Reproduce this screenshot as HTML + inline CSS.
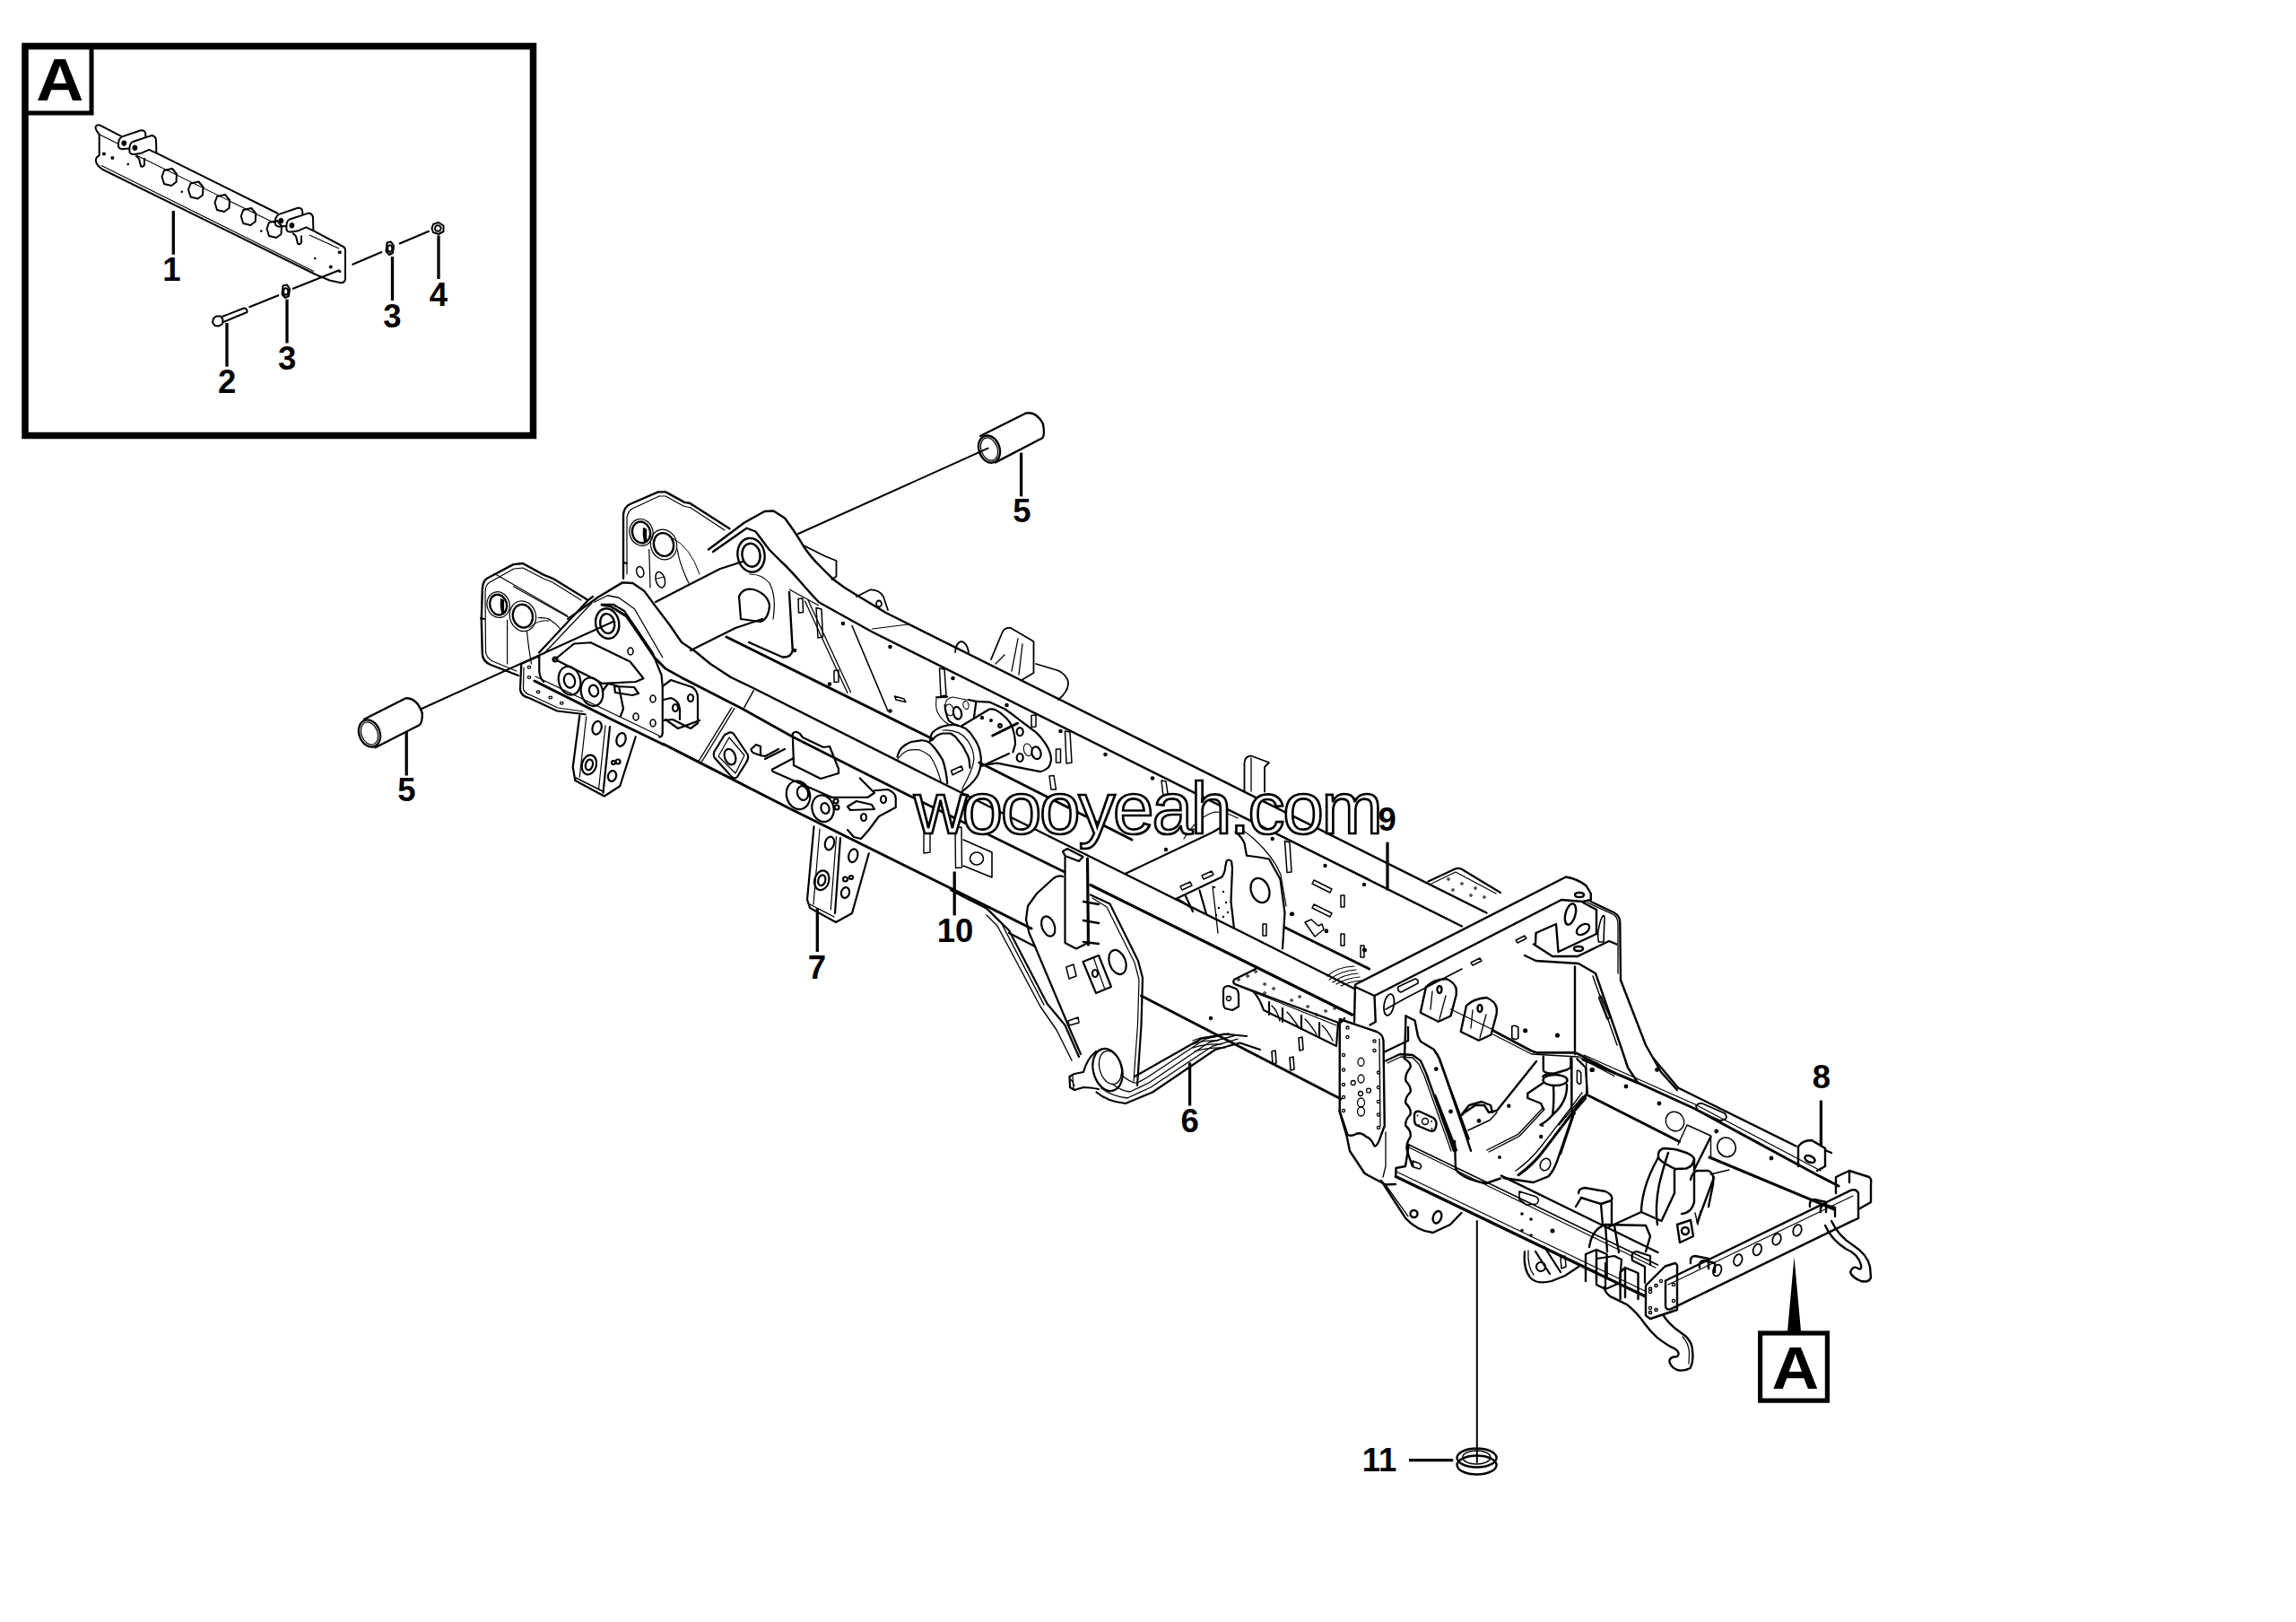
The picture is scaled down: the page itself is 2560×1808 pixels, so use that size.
<!DOCTYPE html>
<html><head><meta charset="utf-8"><style>
html,body{margin:0;padding:0;background:#fff;}
svg{display:block;}
.l{font-family:"Liberation Sans",sans-serif;font-weight:bold;font-size:36.5px;text-anchor:middle;fill:#000;}
.A{font-family:"Liberation Sans",sans-serif;font-weight:bold;font-size:67.5px;text-anchor:middle;fill:#000;}
.w{font-family:"Liberation Sans",sans-serif;font-size:82px;fill:#fff;stroke:#000;stroke-width:2.7px;}
</style></head><body>
<svg width="2560" height="1808" viewBox="0 0 2560 1808" xmlns="http://www.w3.org/2000/svg">
<rect width="2560" height="1808" fill="#fff"/>

<!-- ============ DETAIL BOX A ============ -->
<g id="boxA">
<rect x="28" y="51.5" width="566.5" height="434" fill="none" stroke="#000" stroke-width="7.5"/>
<path d="M28 51.5 H102 V126 H28" fill="none" stroke="#000" stroke-width="5"/>
<text class="A" transform="translate(66.8 112.4) scale(1.09 1)" x="0" y="0">A</text>
</g>

<!-- beam part 1 -->
<g id="beam" fill="none" stroke="#000" stroke-width="2" stroke-linejoin="round">
<path d="M110.7 149.8 Q105 143 107 140.5 Q109 138.5 112 139.8 L136.1 152.4"/>
<path stroke-width="1.1" d="M111 150 L131.6 160.3"/>
<g id="lugs">
<path d="M136.1 152.4 L157 145.2 Q162.3 145 162.3 150 L162.3 153"/>
<path d="M136.1 152.4 Q131 155 132.2 164.2 Q134 166.5 137.5 166.1 L144 165.5"/>
<ellipse cx="138.3" cy="159.6" rx="2.5" ry="2.8" fill="#000" stroke-width="1"/>
<path d="M147.3 158.3 L168.8 151.1 Q174 151.5 174 157 L174.4 170.7"/>
<path d="M147.3 158.3 Q143.5 161 144.6 170 Q146 172.5 149.9 172 L157.7 170.7 L166.2 166.8 L174.4 170.7"/>
<ellipse cx="150.4" cy="164.8" rx="2.5" ry="2.8" fill="#000" stroke-width="1"/>
<path d="M151.2 173.3 Q154 175 155.1 177.3 L157 185.1 Q158.5 187 161 183.8 L161 176"/>
</g>
<use href="#lugs" transform="translate(175 86.5)"/>
<path d="M174.4 170.7 L310 238"/>
<path stroke-width="1.1" d="M152.5 173.3 L307 249"/>
<path d="M349.4 257.2 L381 274 Q385 275.5 385 279 L385 311.25 Q384 316 379 315 L367.5 312.5 L352.5 306.25"/>
<path stroke-width="1.1" d="M345 262 L378 277"/>
<path d="M110.7 149.8 L110.7 173.3 Q107 175 106.8 178.6 Q107 184 114.6 189 L352.5 306.25"/>
<path stroke-width="1.1" d="M113 184.5 L350 302.5"/>
<g stroke-width="2">
<path d="M183 190 L192 188 L197 194 L196.5 203 L191 207 L183 205 L180.5 197 Z"/>
<path d="M212.5 204.5 L221.5 202.5 L226.5 208.5 L226 217.5 L220.5 221.5 L212.5 219.5 L210 211.5 Z"/>
<path d="M242 219 L251 217 L256 223 L255.5 232 L250 236 L242 234 L239.5 226 Z"/>
<path d="M271.25 234 L280.25 232 L285.25 238 L284.75 247 L279.25 251 L271.25 249 L268.75 241 Z"/>
<path d="M300 248 L309 246 L314 252 L313.5 261 L308 265 L300 263 L297.5 255 Z"/>
</g>
<g fill="#000" stroke="none">
<circle cx="115.9" cy="171.4" r="2"/><circle cx="125.4" cy="176" r="2"/><circle cx="142.7" cy="183.1" r="1.3"/>
<circle cx="202.8" cy="213.8" r="1.3"/><circle cx="291.25" cy="257.5" r="1.3"/><circle cx="351.25" cy="288" r="1.3"/>
<circle cx="368.75" cy="297.5" r="2"/><circle cx="378.75" cy="281.25" r="2"/><circle cx="378.75" cy="302.5" r="1.6"/>
</g>
<!-- bolt -->
<path d="M238 355 L241 352.5 L246 352.5 L248.5 356 L248 361 L244 363.5 L239.5 363 L237 359.5 Z"/>
<path d="M247.5 353 L272 343.5 Q275 343.5 275.5 346.5 L275.5 348 L249 359"/>
<!-- washers / nut -->
<path d="M315.5 318.5 L320 317.5 L323 322 L322 330 L318 332 L314.5 328 Z"/>
<ellipse cx="318.7" cy="325" rx="2.6" ry="3.8"/>
<path d="M431.5 270.5 L436 269.5 L439 274 L438 282 L434 284 L430.5 280 Z"/>
<ellipse cx="434.7" cy="277" rx="2.6" ry="3.8"/>
<path d="M483 250 L489 248 L494.5 251.5 L494.5 258 L489 261 L483 259 L481.5 254.5 Z"/>
<ellipse cx="488.3" cy="254.5" rx="3.3" ry="3.3"/>
<g stroke-width="2.2"><path d="M277.5 342.5 L311 329"/><path d="M326 322 L378.75 301"/><path d="M392.5 295 L426 280.75"/><path d="M445 271.75 L478.75 257.5"/></g>
</g>


<!-- ============ MAIN FRAME ============ -->
<g id="frame" fill="none" stroke="#000" stroke-width="2.4" stroke-linejoin="round" stroke-linecap="round">
<!-- front-left block -->
<path d="M578 753 L547 741 Q538 737 537.8 728.6 L536.8 690.9 L537.8 657.4 Q538 648 543 644.8 L572.4 629.1 L582.9 628 L605.9 640.6 L616.4 644.8 L654.1 667.9"/>
<path stroke-width="1.2" d="M576 748 L549 737 Q542 733 541.5 726 L541 660 Q541 652 546 649 L573 634 L583 633 L606 645 L616 649 L648 669"/>
<ellipse cx="555.6" cy="674.1" rx="9.4" ry="11.5" transform="rotate(-15 555.6 674.1)"/>
<ellipse cx="555.6" cy="674.1" rx="12.5" ry="14.5" stroke-width="1.2" transform="rotate(-15 555.6 674.1)"/>
<ellipse cx="582.9" cy="686.7" rx="11" ry="13" transform="rotate(-15 582.9 686.7)"/>
<ellipse cx="582.9" cy="686.7" rx="14.5" ry="17" stroke-width="1.2" transform="rotate(-15 582.9 686.7)"/>
<!-- rear block -->
<path d="M695 644.8 L695 573.5 Q696 565 702.4 562 L733.8 548.4 L742.2 548.4 L763.1 559.9 L769.4 561 L813.4 589.3"/>
<path stroke-width="1.2" d="M699 640 L699 577 Q700 570 705 567 L735 553 L742 553 L762 564 L770 566 L808 591"/>
<ellipse cx="715" cy="593.4" rx="10" ry="12" transform="rotate(-15 715 593.4)"/>
<ellipse cx="715" cy="593.4" rx="13" ry="15" stroke-width="1.2" transform="rotate(-15 715 593.4)"/>
<ellipse cx="740" cy="607" rx="11" ry="13" transform="rotate(-15 740 607)"/>
<ellipse cx="740" cy="607" rx="14.5" ry="17" stroke-width="1.2" transform="rotate(-15 740 607)"/>
<!-- rear arm -->
<path d="M790 612.5 L830 582.5 L852.5 570 L862.5 569.5 L875 577.5 Q888 595 896.6 610 Q905 622 913.3 630 Q922 639 930 646.5 Q942 656 955 663.2 L988.2 683.2 L1657.5 1017.5"/>
<path d="M795 615 L832.5 588.75 L842.5 592.5 L857.5 612.5 L870 625 Q880 634 896.6 653.2 Q905 663 913.3 671.5 L973.2 704.8 L1630 1032.5"/>
<ellipse cx="837.5" cy="618.75" rx="15" ry="19" transform="rotate(-10 837.5 618.75)"/>
<ellipse cx="837.5" cy="618.75" rx="10" ry="13" transform="rotate(-10 837.5 618.75)"/>
<path d="M880 660 L883.75 725 Q882 733 872.5 732.5 L835 716"/>
<!-- rear rail lower edge -->
<path stroke-width="3" d="M810 710 L1040 823.75"/>
<path stroke-width="3" d="M1092 850 L1262 936"/>
<path stroke-width="3" d="M1432.5 1033.75 L1526.6 1080"/>
<!-- front arm -->
<path d="M633.2 689.9 L666.7 665.8 L694 649.4 L705.5 650 L718 658.4 L729.6 674.1 L746.4 696.2 L760 716 L775 726 L792 740 L815 755 L840 767 L1026 860.7 L1386.6 1040 L1510 1102"/>
<path stroke-width="2.8" d="M670.9 674.1 L681.4 676.2 L698.2 686.7 L712.8 707.7 L729.6 732.8 L742.2 745.4 L761 755.9 L827.2 789.7 L883.2 821 L1015 887.5 L1187 972"/>
<path stroke-width="3.2" d="M1216 986.5 L1507.5 1131"/>
<ellipse cx="677.2" cy="695.1" rx="13" ry="16.8" transform="rotate(-10 677.2 695.1)"/>
<ellipse cx="677.2" cy="695.1" rx="8" ry="11" transform="rotate(-10 677.2 695.1)"/>
<!-- near rail bottom -->
<path stroke-width="3" d="M740 829.5 L882 902 L1077.5 998.75 L1150 1035"/>
<path stroke-width="3" d="M1272.5 1110 L1495 1225"/>
<!-- explode lines -->
<path stroke-width="2" d="M890 595 L1101.6 499.7"/>
<path stroke-width="2" d="M470.2 790 L683.5 693"/>
<!-- bushings 5 -->
<path d="M1093 486 L1143.5 460.7 Q1155 458 1162.8 472 Q1166 488 1160.3 489.3 L1110 515.4"/>
<ellipse cx="1103" cy="500.6" rx="11.5" ry="15.5" transform="rotate(-20 1103 500.6)"/>
<ellipse cx="1103" cy="500.6" rx="9" ry="13" stroke-width="1.2" transform="rotate(-20 1103 500.6)"/>
<path d="M406 801.8 L452.5 778.3 Q465 778 470.8 795 Q471 806 467.5 808.3 L418.5 833.2"/>
<ellipse cx="412" cy="817.5" rx="11.5" ry="15.5" transform="rotate(-20 412 817.5)"/>
<ellipse cx="412" cy="817.5" rx="9" ry="13" stroke-width="1.2" transform="rotate(-20 412 817.5)"/>
<!-- seal 11 -->
<ellipse cx="1646.6" cy="1625" rx="22" ry="10.5"/>
<ellipse cx="1646.6" cy="1633" rx="22" ry="10.5"/>
<ellipse cx="1646.3" cy="1624.5" rx="15.5" ry="7.5" stroke-width="1.5"/>
<path stroke-width="2" d="M1646.8 1361 L1646.8 1630"/>
</g>


<!-- ===== rear cross member & rear frame ===== -->
<g fill="none" stroke="#000" stroke-width="2.4" stroke-linejoin="round" stroke-linecap="round">
<!-- cross member -->
<path d="M1510 1139 L1511 1097.5 L1746 977.5 Q1760 980 1768.75 987.5 L1773.75 996 L1773.75 1003"/>
<path d="M1511 1100 L1532.5 1110 L1741 1003 L1765 1005 L1773.75 1003"/>
<path d="M1532.5 1110 L1533.75 1139 L1527.5 1142.5"/>
<path stroke-width="1.6" d="M1567.5 1112.5 L1630 1080 M1545 1125 L1567.5 1112.5"/>
<path d="M1558.75 1100 L1578 1091 Q1582 1092 1581 1096 L1562 1106 Q1558 1105 1558.75 1100 Z" stroke-width="1.6"/>
<path d="M1640 1073 L1650 1068 L1652 1071 L1642 1076 Z" stroke-width="1.4"/>
<path d="M1690 1048 L1700 1043 L1702 1046 L1692 1051 Z" stroke-width="1.4"/>
<ellipse cx="1548.75" cy="1120" rx="5.5" ry="12" stroke-width="1.8" transform="rotate(10 1548.75 1120)"/>
<!-- right post -->
<path d="M1773.75 1005 L1800 1017.5 Q1806 1021 1806.25 1027.5 L1807 1092.5"/>
<path stroke-width="1.3" d="M1770 1006 L1800 1020 Q1804 1024 1804 1030 L1804 1085"/>
<path d="M1765 1006 L1780 1014 L1780 1041 L1737.5 1061 L1735 1030 L1712.5 1040 L1712 1052"/>
<path d="M1710 1052.5 L1731 1066 L1759 1066 L1794 1049 L1802.5 1052.5"/>
<ellipse cx="1751" cy="1019" rx="5.5" ry="12" transform="rotate(15 1751 1019)"/>
<ellipse cx="1765" cy="1036" rx="8" ry="5" transform="rotate(-35 1765 1036)"/>
<ellipse cx="1761" cy="997.5" rx="5" ry="2.5"/><ellipse cx="1760" cy="1057.5" rx="5" ry="2.5"/>
<path d="M1782.5 1050 Q1780 1040 1785 1025 Q1788 1018 1789 1022 L1788 1050 Z" stroke-width="1.6"/>
<!-- sloped member (right) -->
<path d="M1700 1065 L1712.5 1071 L1760 1074 L1779 1085 L1806 1163 L1815 1190 L1825 1205"/>
<path stroke-width="1.4" d="M1776 1088 L1803 1165"/>
<path d="M1807 1092.5 L1835 1165 L1852 1195 L1870 1215"/>
<path d="M1756 1077.5 L1756 1175"/>
<path stroke-width="1.6" d="M1782.5 1112 L1785 1110 L1795 1134 L1792 1136 Z"/>
<!-- inner plate -->
<path stroke-width="1.3" d="M1617.5 1125 L1665 1148"/>
<!-- lugs -->
<path d="M1583.75 1128.75 L1590 1100 Q1598 1092 1612.5 1091 Q1622 1095 1623.75 1102.5 L1623.75 1108.75 L1617.5 1132.5 L1603.75 1138.75 Z"/>
<path stroke-width="1.3" d="M1595 1125 L1597 1105 M1612 1110 L1605 1136"/>
<ellipse cx="1605" cy="1103" rx="2.5" ry="4"/>
<path d="M1628.75 1150 L1635 1121 Q1643 1113 1657.5 1112 Q1667 1116 1668.75 1123.5 L1668.75 1129.75 L1662.5 1153.5 L1648.75 1159.75 Z"/>
<path stroke-width="1.3" d="M1640 1146 L1642 1126 M1657 1131 L1650 1157"/>
<ellipse cx="1650" cy="1124" rx="2.5" ry="4"/>
<!-- vertical plate with holes -->
<path d="M1493.75 1136 L1535 1150 Q1542 1153 1542.5 1160 L1543.75 1255 L1540 1265 Q1536 1278 1532.5 1277.5 Q1528 1268 1523.75 1267.5 Q1518 1262 1512.5 1263.75 Q1507 1267 1502.5 1265 L1493.75 1238.75 Z"/>
<path stroke-width="1.3" d="M1538 1158 L1539 1255"/>
<g stroke-width="1.3">
<circle cx="1502.5" cy="1145.6" r="1.6"/><circle cx="1502.5" cy="1156" r="1.6"/><circle cx="1532.5" cy="1160.6" r="1.6"/><circle cx="1532.5" cy="1171" r="1.6"/>
<circle cx="1498" cy="1176" r="1.6"/><circle cx="1498" cy="1192.5" r="1.6"/><circle cx="1498" cy="1209" r="1.6"/><circle cx="1498" cy="1223" r="1.6"/><circle cx="1498" cy="1238" r="1.6"/>
<circle cx="1537" cy="1195.6" r="1.6"/><circle cx="1537" cy="1212" r="1.6"/><circle cx="1537" cy="1228" r="1.6"/><circle cx="1537" cy="1242.5" r="1.6"/><circle cx="1537" cy="1257" r="1.6"/>
<ellipse cx="1517.5" cy="1183.75" rx="3.5" ry="4.5"/><ellipse cx="1517.5" cy="1202.5" rx="3.5" ry="4.5"/><circle cx="1508.75" cy="1207" r="2.5"/><circle cx="1526" cy="1215.6" r="2.5"/><circle cx="1517" cy="1219" r="2.5"/>
<ellipse cx="1517.5" cy="1229" rx="4" ry="5"/><ellipse cx="1517.5" cy="1239" rx="4" ry="5"/>
</g>
<!-- box underside lines -->
<path d="M1543.75 1172.5 L1570 1160 L1570 1145"/>
<path d="M1545 1182.5 L1561 1175 L1575 1176 L1584 1182.5 L1590 1196 L1621 1282.75"/>
<path stroke-width="1.3" d="M1547 1185 L1562 1178 L1575 1179 L1582 1186 L1588 1199 L1618 1283"/>
<!-- wavy member -->
<path d="M1567.5 1132.5 L1577.5 1137.5 L1581 1155 L1584 1161 L1599 1170 L1605 1180 L1635 1267.5 L1640 1282.75"/>
<path d="M1566 1180 Q1574 1185 1572.5 1190 Q1566 1198 1567.5 1205 Q1574 1212 1572.5 1217.5 Q1566 1224 1567.5 1230 Q1574 1236 1572.5 1242.5 Q1566 1249 1567.5 1255 Q1574 1261 1572.5 1267.5 Q1567 1275 1569 1282.75"/>
<path d="M1569 1282.75 L1572 1292 L1575 1300"/>
<path d="M1567.5 1132.5 L1566 1180"/>
<!-- rounded plate & curves lower -->
<path d="M1622 1272 L1623 1303 Q1630 1314 1657 1319 L1673 1313.5"/>
<path d="M1600 1172.4 Q1603 1175 1604.4 1179.4 L1637.6 1269.5"/>
<path stroke-width="3" d="M1600 1221.4 L1623.6 1282"/>
<path d="M1713 1183 L1669 1238 L1660 1240 L1655 1232 L1645 1232 L1633 1240 L1630 1243"/>
<path stroke-width="1.4" d="M1636.8 1260 L1661.3 1248.5 L1669 1240"/>
<path stroke-width="1.4" d="M1657.8 1282 L1692.8 1264.3 L1720.8 1234.5 M1660 1284 L1694 1266.5 L1722 1236.5"/>
<path d="M1720.8 1177.6 L1720.8 1192.5 Q1721 1196 1731.3 1197 L1747 1192.5 L1751.4 1190 L1751.4 1179.4"/>
<ellipse cx="1734" cy="1204" rx="13.5" ry="6"/>
<path d="M1732 1210 Q1733 1225 1731.3 1242.4 M1747 1209 Q1748 1228 1731.3 1242.4"/>
<path d="M1720 1207.4 L1703.3 1218.8 L1703.3 1224 L1718.2 1230 L1720.8 1236.3"/>
<path d="M1731.3 1242.4 Q1725 1250 1717.3 1253.8 L1720 1254.7"/>
<path d="M1758.4 1180.3 L1768 1190 L1769.8 1218 M1752.3 1179.4 L1752.3 1238"/>
<path stroke-width="1.5" d="M1758.4 1193.4 Q1760 1192 1762.8 1196 L1762.8 1207 Q1761 1210 1758.4 1206 Z"/>
<path stroke-width="3" d="M1768 1221 L1749.6 1245 L1723 1280 Q1710 1298 1693 1309.7"/>
<path stroke-width="1.3" d="M1764 1218 L1746 1242 L1719 1277 Q1706 1294 1690 1305"/>
<path d="M1755.8 1240.7 L1753 1244.8 L1736.6 1293 Q1732 1306 1726.3 1311.4 L1709.7 1318 L1676.4 1313"/>
<ellipse cx="1723" cy="1298" rx="5.5" ry="7" stroke-width="1.6" transform="rotate(25 1723 1298)"/>
<path stroke-width="2.8" d="M1664.8 1148.75 L1707.7 1171.5 L1713 1173.3 L1755.8 1173.3 L1760 1175 L1800 1196"/>
<path stroke-width="1.3" d="M1664.8 1153 L1707.7 1175 L1760 1178 L1800 1199.5"/>
<path stroke-width="1.6" d="M1685.8 1144 Q1689 1142 1692.8 1145 L1692.8 1157 Q1690 1160 1685.8 1157 Z"/>
<g fill="#000" stroke="none"><circle cx="1700.7" cy="1148.75" r="2.6"/><circle cx="1736.5" cy="1154" r="2.6"/><circle cx="1775" cy="1192.5" r="2.6"/><circle cx="1682.3" cy="1232.8" r="2.2"/><circle cx="1617.5" cy="1239" r="2.4"/><circle cx="1649" cy="1249.4" r="2.4"/><circle cx="1718.2" cy="1267" r="2.2"/><circle cx="1601.3" cy="1191.6" r="2.4"/></g>
<path d="M1630 1242 L1638 1232 L1652 1228 L1662 1232 L1664 1240"/>
<path d="M1720 1200 Q1724 1196 1733 1197"/>
<!-- near rear rail -->
<path stroke-width="1.6" d="M1570.8 1276 L1848.5 1410"/>
<path stroke-width="1.2" d="M1572 1279.5 L1846 1413"/>
<path stroke-width="2.4" d="M1674 1310.6 L1848.5 1396"/>
<path stroke-width="3.2" d="M1556.3 1311.5 L1834 1444.8"/>
<path stroke-width="1.2" d="M1557 1306 L1834 1439"/>
<path d="M1556.3 1311.5 L1556.5 1302 L1567 1300 L1570.8 1276"/>
<path stroke-width="1.6" d="M1694 1328 L1713 1334 Q1718 1338 1713 1342 L1702 1343 L1694 1337 Z"/>
<g fill="#000" stroke="none"><circle cx="1697" cy="1353" r="1.8"/><circle cx="1707" cy="1359" r="1.8"/><circle cx="1697" cy="1371.6" r="1.8"/><circle cx="1707" cy="1377" r="1.8"/><circle cx="1731" cy="1372" r="2.5"/><circle cx="1672" cy="1290" r="2"/></g>
<!-- bracket under near rail (left) -->
<path d="M1540 1316 L1567 1357.7 Q1580 1372 1597.7 1374 L1617 1365 L1629.4 1352"/>
<path stroke-width="1.3" d="M1545.8 1322 L1570 1355.8"/>
<ellipse cx="1602.5" cy="1356.7" rx="4.5" ry="7" transform="rotate(20 1602.5 1356.7)"/>
<circle cx="1576.5" cy="1353" r="4"/>
<!-- far rear rail -->
<path d="M1843.75 1180 L1871 1212.5 L2002.5 1277.5"/>
<path stroke-width="3" d="M1765 1181 L1827.5 1207.5 L1890 1236 L2026.6 1310 L2050 1322"/>
<path stroke-width="1.2" d="M1766 1176 L1890 1231 L2030 1305"/>
<path stroke-width="3" d="M1768.75 1220 L1872.5 1272.5"/>
<path stroke-width="3" d="M1906 1290 L2045 1348"/>
<ellipse cx="1867.5" cy="1250" rx="10" ry="11" stroke-width="1.4" transform="rotate(-30 1867.5 1250)"/>
<ellipse cx="1925" cy="1278.75" rx="10" ry="11" stroke-width="1.6" transform="rotate(-30 1925 1278.75)"/>
<path stroke-width="1.8" d="M1891 1233 Q1893 1229 1898 1230 L1923 1241 Q1927 1245 1923 1248 L1918 1249 L1893 1238 Z"/>
<g fill="#000" stroke="none"><circle cx="1775.6" cy="1192.5" r="2.4"/><circle cx="1813" cy="1211" r="2.4"/><circle cx="1850" cy="1230" r="2.4"/><circle cx="1913.75" cy="1261" r="2.4"/><circle cx="1975" cy="1291" r="2.4"/><circle cx="1847.5" cy="1192.5" r="2.4"/></g>
<!-- 8 bracket -->
<path d="M2005 1300 L2005 1278 Q2010 1271 2020 1271 L2035 1280 L2035 1300 L2026 1305"/>
<ellipse cx="2018" cy="1292" rx="6" ry="3.5" transform="rotate(25 2018 1292)"/>
<path d="M2035 1282 L2042 1285"/>
<!-- cross piece & posts -->
<path stroke-width="1.4" d="M1881 1254 L1907.5 1266 L1907.5 1290 M1881 1254 L1871 1276"/>
<path d="M1907.5 1267 L1889 1304"/>
<path d="M1911 1312.5 L1892.5 1362.5"/>
<path stroke-width="1.4" d="M1907 1309 L1928 1304"/>
<path d="M1849 1287 Q1849 1282 1855 1280 L1867 1281 Q1888 1286 1889 1292 Q1888 1300 1880 1302.5 L1868 1303 Q1851 1295 1849 1290 Z"/>
<path d="M1849 1290 Q1838 1310 1834 1325 Q1830 1340 1830 1351 L1852.5 1361 L1867 1330"/>
<path d="M1867 1304 L1867 1330 M1889 1292 L1889 1340 Q1886 1352 1875 1353"/>
<path d="M1760 1330 Q1760 1325 1767 1324 L1790 1328 Q1799 1332 1797 1338 L1785 1342 L1763 1335"/>
<path d="M1763 1335 L1757 1345 M1785 1342 L1787 1365 M1797 1340 L1797 1365"/>
<path d="M1794 1367.5 L1830 1351"/>
<path stroke-width="1.4" d="M1752.5 1180 L1752.5 1236 M1768.75 1180 L1768.75 1220"/>
<path stroke-width="1.6" d="M1768.75 1224 L1740 1257.5 M1765 1222 L1738 1254"/>
<path d="M1753.75 1245 L1740 1286"/>
<path d="M1870 1365 L1885 1360 L1888 1378 L1873 1385 Z"/>
<circle cx="1879" cy="1372" r="4"/>
<path stroke-width="1.4" d="M1890 1352 L1893 1365 L1896 1350"/>
<!-- rear cross (near right) members -->
<path d="M1772 1390 Q1775 1370 1790 1365 L1835 1366 L1840 1378 L1835 1395"/>
<path d="M1790 1365 L1792 1395 M1800 1366 L1805 1396"/>
<path d="M1885 1315 Q1886 1308 1892 1305 L1905 1305 Q1912 1308 1910 1320 L1905 1345"/>
<path d="M1860 1285 Q1855 1300 1850 1320 Q1845 1345 1848 1365"/>
<!-- near rail end block -->
<path d="M1835 1433 L1856.5 1411.5 L1868 1408 Q1871 1410 1870 1414 L1870 1460 L1840 1470 L1835 1466.4 Z"/>
<g stroke-width="1.5"><circle cx="1840" cy="1436.5" r="1.6"/><circle cx="1846.5" cy="1433" r="1.6"/><circle cx="1840" cy="1463" r="1.6"/><circle cx="1846.5" cy="1460" r="1.6"/></g>
<path d="M1806.6 1448 L1806.6 1418 L1812 1413 L1826.5 1419 L1826.5 1448 M1812 1413 L1812 1446"/>
<path d="M1768 1428 L1768 1398 L1780 1393 L1791.6 1398 L1791.6 1425 M1780 1393 L1780 1428"/>
<!-- bumper (part 1 installed) -->
<path d="M1857 1427.5 L2064 1326.7 Q2070 1325 2072 1330 L2072 1358 L2064.5 1361.3 L1863 1459.2 Q1857 1461 1857 1455 Z"/>
<path stroke-width="1.2" d="M1860 1432 L2066 1333"/>
<g stroke-width="1.8">
<ellipse cx="1914.7" cy="1416" rx="4.5" ry="6.5" transform="rotate(20 1914.7 1416)"/>
<ellipse cx="1937.8" cy="1404.5" rx="4.5" ry="6.5" transform="rotate(20 1937.8 1404.5)"/>
<ellipse cx="1959.4" cy="1393" rx="4.5" ry="6.5" transform="rotate(20 1959.4 1393)"/>
<ellipse cx="1981" cy="1381.4" rx="4.5" ry="6.5" transform="rotate(20 1981 1381.4)"/>
<ellipse cx="2004" cy="1371.4" rx="4.5" ry="6.5" transform="rotate(20 2004 1371.4)"/>
</g>
<path d="M1885 1408 Q1884 1400 1890 1400 L1905 1403 L1905 1414"/>
<path d="M1895 1413 Q1894 1405 1900 1405 L1912 1408 L1912 1418"/>
<path d="M2018 1345 Q2017 1337 2023 1337 L2036 1340 L2036 1351"/>
<path d="M2030 1351 Q2029 1343 2035 1343 L2046 1346 L2046 1356"/>
<path d="M2047 1330 L2047 1312 L2062 1305 L2084 1312 Q2087 1314 2086 1320 L2086 1340 L2072 1348"/>
<path d="M2062 1305 L2062 1318"/>
<!-- hooks -->
<path d="M1788.3 1434.8 Q1790 1441 1795 1444.8 Q1806 1450 1815 1454.8 Q1826 1464 1833.2 1474.7 Q1840 1484 1848.2 1491.4 Q1857 1498 1863.2 1501.4 Q1870 1504 1871.5 1508 Q1872 1513 1866 1512.5 Q1861 1514 1861.5 1518 Q1863 1524 1870 1527 Q1878 1529 1884.8 1524.7 Q1888 1518 1887.3 1509.7 Q1887 1500 1884.8 1496.4 Q1882 1492 1879.8 1489.7 L1866.5 1479.7 Q1858 1472 1854.8 1466.4"/>
<path stroke-width="1.2" d="M1876 1490 Q1883 1497 1883.5 1508 L1883 1520"/>
<path d="M2042 1361 Q2050 1378 2066 1388 Q2082 1398 2085 1412 L2086 1424 Q2084 1430 2075 1428 Q2065 1424 2063 1418 Q2066 1410 2072 1414 Q2076 1416 2075 1410 Q2072 1398 2058 1392 Q2042 1382 2035 1366"/>
</g>


<!-- ===== front-left region details ===== -->
<g fill="none" stroke="#000" stroke-width="2.2" stroke-linejoin="round" stroke-linecap="round">
<!-- arm left edge & plate -->
<path d="M601 727.5 L656 668.75 L661 665"/>
<path stroke-width="1.2" d="M606 729 L660 672"/>
<path d="M601.25 731.25 L601.25 748.75 Q602 756 606.25 760"/>
<path d="M671.25 673.75 L683.75 673.75 L696 681 L712.5 705 L727.5 727.5 L737.5 752.5 L738.75 765 L738.75 817.5 Q738 822 735 821.25"/>
<!-- front-left mounting plate with holes -->
<path d="M601.25 731.25 L581.25 740 L580 768.75 Q581 776 590 778 L621.25 792.5 L652.5 796.25"/>
<path stroke-width="1.2" d="M584 744 L583.5 768 Q585 773 592 775 L622 789 L650 793"/>
<g stroke-width="1.2"><ellipse cx="590" cy="743.75" rx="1.8" ry="1.3"/><ellipse cx="590" cy="755" rx="1.8" ry="1.3"/><ellipse cx="600" cy="771.25" rx="1.8" ry="1.3"/><ellipse cx="613.75" cy="777.5" rx="1.8" ry="1.3"/><ellipse cx="626.25" cy="783.75" rx="1.8" ry="1.3"/></g>
<!-- bell crank gusset 1 -->
<path d="M618.75 735 L640 717.5 L658.75 716.25 L702.5 737.5 L717.5 756.25 L708.75 760 L671.25 761.9 L665 758 L621.25 736.25"/>
<circle cx="619" cy="735" r="2.5"/>
<!-- bushings 1 -->
<ellipse cx="635" cy="758.75" rx="12" ry="16" transform="rotate(-15 635 758.75)"/>
<ellipse cx="635" cy="758.75" rx="6" ry="8" transform="rotate(-15 635 758.75)"/>
<ellipse cx="660" cy="771.25" rx="12" ry="16" transform="rotate(-15 660 771.25)"/>
<ellipse cx="662" cy="770" rx="5" ry="6.5" transform="rotate(-15 662 770)"/>
<path d="M672 770 L678 762 L690 765 L695 790 L692 798"/>
<path d="M685 765 L707 766 L712 773 L705 775 L686 772 Z"/>
<g stroke-width="1.6"><ellipse cx="703" cy="726" rx="3" ry="4"/><ellipse cx="728" cy="779" rx="3" ry="4"/><ellipse cx="709" cy="799" rx="3" ry="4"/><ellipse cx="728" cy="806" rx="3" ry="4"/></g>
<!-- small lug box on rail -->
<path d="M738.75 765 L748 758 L772 766 Q778 770 778 778 L778 806 L770 812 L750 802 L740 803"/>
<path d="M740 780 L748 778 Q757 781 758 790 L758 802"/>
<path d="M742 802 L756 812 L780 803"/>
<ellipse cx="753" cy="789" rx="3" ry="4"/><ellipse cx="770" cy="778" rx="3" ry="4"/>
<!-- near rail lines extended -->
<path stroke-width="3" d="M596 759 L680 801 L740 830"/>
<path stroke-width="1.2" d="M597 754 L735 820"/>
<!-- weld diagonals -->
<path stroke-width="1.4" d="M815.9 788.7 L779.3 848"/><path stroke-width="1.4" d="M819 789.5 L782.5 849"/>
<path stroke-width="1.4" d="M840.3 769.6 L829.8 788.7"/>
<!-- hex flange -->
<path d="M811.25 817.5 Q815 815 818 818 L833.75 841.25 Q835 845 832 850 L822 866 Q819 869 815 865 L797 845 Q795 842 796.25 838 L808 819 Z"/>
<path stroke-width="1.2" d="M813 822 L830 842 L820 862 L801 843 Z"/>
<ellipse cx="814" cy="843.6" rx="6" ry="9" transform="rotate(-20 814 843.6)"/>
<!-- small bracket -->
<path d="M837.5 835 L843 830 L848 832 L848 842 L853 843 L868 835 M848 842 L842 840 Q837 838 837.5 835 M853 846 L875 835"/>
<!-- leg 7 (first) -->
<path d="M646.25 797.5 L638.75 855 L641.25 870 L673.75 887.5 L691.25 876.25 L708.75 821.25"/>
<path stroke-width="1.2" d="M653.75 798.75 L646.25 866.25"/>
<path stroke-width="1.2" d="M675 808.75 L667.5 880"/>
<path d="M680 810 L672.5 883.75"/>
<path stroke-width="1.4" d="M642 867 L672 882"/>
<ellipse cx="665.6" cy="811.25" rx="5" ry="7.5" transform="rotate(15 665.6 811.25)"/>
<ellipse cx="692.5" cy="824.4" rx="5" ry="7.5" transform="rotate(15 692.5 824.4)"/>
<ellipse cx="682.5" cy="865" rx="4.5" ry="6" transform="rotate(15 682.5 865)"/>
<ellipse cx="656.9" cy="852.5" rx="8" ry="11" transform="rotate(15 656.9 852.5)"/>
<ellipse cx="656.9" cy="852.5" rx="4" ry="6" transform="rotate(15 656.9 852.5)"/>
<circle cx="689" cy="849" r="2.5"/><circle cx="684" cy="850" r="2"/>
<!-- second gusset/mount plate on near rail -->
<path d="M861.25 857.5 L885 845 M861.25 857.5 Q860 860 864 861 L928 889"/>
<path d="M883.75 817.5 Q888 814 892 818 L895 822 L918 833 L925 832 L935 857 L935 862 L915 868 L885 853 Z"/>
<path d="M926 888.75 L967.5 888.75 L975 883.75 L958.75 867.5"/>
<path d="M975 881.25 L990 880 Q999 884 998.75 890 L998.75 900 L980 910 L968.75 925 L960 935 L952 933 L945 925"/>
<ellipse cx="890" cy="886.25" rx="13" ry="16" transform="rotate(-15 890 886.25)"/>
<ellipse cx="895" cy="884" rx="6" ry="8" transform="rotate(-15 895 884)"/>
<ellipse cx="917.5" cy="901.25" rx="12" ry="15" transform="rotate(-15 917.5 901.25)"/>
<ellipse cx="920" cy="901" rx="4.5" ry="6" transform="rotate(-15 920 901)"/>
<path d="M945 899 L955 893 L972 897 L975 902 L948 903 Z"/>
<ellipse cx="985" cy="891" rx="3" ry="4"/><ellipse cx="963" cy="911" rx="3" ry="4"/>
<circle cx="932" cy="893" r="2.5"/><circle cx="933" cy="900" r="2.5"/>
<!-- leg 7 (second) -->
<path d="M907.5 921.25 L900 1002.75 L903 1012 L932 1028 L950 1018 L968.75 951.25"/>
<path stroke-width="1.2" d="M914 924 L907 1008"/>
<path stroke-width="1.2" d="M932.5 932.5 L926.25 1014"/>
<path d="M937 934 L931 1018"/>
<path stroke-width="1.4" d="M903 1008 L930 1022"/>
<ellipse cx="925" cy="940" rx="5" ry="7.5" transform="rotate(15 925 940)"/>
<ellipse cx="951.25" cy="953.75" rx="5" ry="7.5" transform="rotate(15 951.25 953.75)"/>
<ellipse cx="916.25" cy="981.25" rx="8" ry="11" transform="rotate(15 916.25 981.25)"/>
<ellipse cx="916.25" cy="981.25" rx="4" ry="6" transform="rotate(15 916.25 981.25)"/>
<ellipse cx="942.5" cy="995" rx="4.5" ry="6" transform="rotate(15 942.5 995)"/>
<circle cx="942.5" cy="980" r="2.5"/><circle cx="949" cy="978" r="2"/>
<!-- small bars near 10 -->
<path stroke-width="1.4" d="M1030 929 L1037 928 L1037 950 L1030 951 Z"/>
<path stroke-width="1.4" d="M1065 922.5 L1072 922 L1072.5 967 L1065.5 967.5 Z"/>
<path stroke-width="1.6" d="M1074 936 L1106 950 L1106 978 L1074 965"/>
<ellipse cx="1089" cy="957" rx="7.5" ry="7" stroke-width="1.6"/>
<!-- bushing hub (rear arm lower) -->
<path d="M1037 826 Q1038 818 1039.7 816.6 Q1044 812 1051 809.7 Q1058 807.5 1064 808 Q1071 809 1077 812.3 Q1082 816 1085.8 822.7 Q1091 830 1092.8 838.4 Q1094.5 845 1093.7 851.5 Q1093 858 1090 864.5 Q1086 871 1081.5 875 Q1077 879 1072.8 882"/>
<path stroke-width="1.2" d="M1051 814 Q1060 813 1068.4 816.6 Q1077 821 1081.5 829.7 Q1086 838 1085.8 847 Q1085 854 1082.3 860 Q1078 870 1072.8 879.3"/>
<path d="M1038.8 825.3 Q1044 819 1051 817.5 L1059.7 817.5 Q1065 820 1068.4 825.3 Q1074 831 1077 838.4 Q1080 843 1080.6 847 L1081.5 855.8"/>
<path d="M1072.8 808.8 L1103.2 790.5 Q1107 790 1110.2 791.4 Q1120 797 1126 805.3 Q1130 812 1131 819.2 Q1132 825 1132 829.7 L1129.4 838.4"/>
<path d="M1094.5 854 L1125 840"/>
<path d="M1088.4 781.8 L1103.2 782.6 L1120.7 790.5 Q1130 797 1138 803.5 L1155.5 816.6 Q1164 825 1168.6 834 Q1172 841 1172 847 Q1171 853 1168.6 855.8 Q1165 859 1159.9 860.2 L1138 855.8 L1112 850.6 L1098.9 852.3"/>
<ellipse cx="1137.2" cy="815.7" rx="3.5" ry="4.5"/>
<ellipse cx="1155.5" cy="839.3" rx="5" ry="7" transform="rotate(-15 1155.5 839.3)"/>
<ellipse cx="1146" cy="835.8" rx="4.5" ry="7" stroke-width="1.1" transform="rotate(-15 1146 835.8)"/>
<ellipse cx="1137.2" cy="844.5" rx="3.5" ry="4.5"/>
<path d="M1044 777.4 L1056.2 776.6 M1053.6 786 Q1054 795 1058 803.5 Q1062 807 1068.4 808.8 M1085.8 801 L1088.4 781.8 L1080 780"/>
<path stroke-width="1.2" d="M1053.6 786 Q1055 778 1062 777 L1088 782"/>
<ellipse cx="1058.8" cy="791.4" rx="4.5" ry="6.5" stroke-width="1.1" transform="rotate(-15 1058.8 791.4)"/>
<ellipse cx="1067.5" cy="794.8" rx="4.5" ry="7" transform="rotate(-15 1067.5 794.8)"/>
<ellipse cx="1077" cy="786" rx="3" ry="4.5" stroke-width="1.1" transform="rotate(-15 1077 786)"/>
<path stroke-width="1.1" d="M1044 779 Q1043 788 1044.9 793 Q1049 802 1057 807"/>
<path d="M1000.5 843.6 Q1002 837 1005.7 833.2 Q1010 829 1016 827 L1026.6 825.3 Q1031 825 1035.3 827 Q1039 830 1042.3 834 Q1047 840 1051 847 Q1055 858 1056.2 873.2"/>
<path stroke-width="1.2" d="M1001 846.2 Q1005 840 1011.8 836.7 Q1018 835 1024.8 835.8 Q1031 838 1037 842.8 Q1041 848 1044 855.8 Q1047 863 1049.2 871.5"/>
<path stroke-width="3" d="M1106.7 820 L1134.6 806.2"/>
<path stroke-width="1.6" d="M1060.6 859 L1072 854 L1073.6 858 L1062 863.7 Z"/>
<circle cx="1095" cy="800" r="2.2" fill="#000" stroke="none"/><circle cx="1105" cy="803" r="2" fill="#000" stroke="none"/><circle cx="1115" cy="809" r="1.8"/>
<!-- cross tube (between arms) -->
<path d="M731 671 L803 634 L828 626"/>
<path d="M770 725 L820 700 L850 690"/>
<path d="M824 665 Q828 655 840 657 Q856 662 858 675 Q857 690 848 693 L826 690 Z"/>
<path stroke-width="1.2" d="M836 640 Q850 640 858 650 Q866 665 862 690"/>
</g>


<!-- ===== middle A-plate & member 6 ===== -->
<g fill="none" stroke="#000" stroke-width="2.2" stroke-linejoin="round" stroke-linecap="round">
<path d="M1185 977 Q1180 975 1175 978.75 L1156 996 L1146 1010 L1144 1025 L1147.5 1040 L1154 1055 L1191 1142.75 L1205 1175"/>
<path d="M1216 997.5 L1237.5 1007.5 L1269 1071 L1274 1090 L1272.5 1142.75 L1268 1210"/>
<path stroke-width="1.2" d="M1218 1001 L1234 1011 L1265 1073 L1270 1092 L1268.5 1142 L1264 1205"/>
<!-- post with tabs -->
<path d="M1187.5 954 L1185 949 L1190 946 L1207.5 955 L1203 960 L1187.5 954 L1187.5 1051 L1200 1057.5 L1211 1052"/>
<path stroke-width="3.2" d="M1212.5 957 L1213.5 1053"/>
<path stroke-width="2.6" d="M1208 1005 L1225 1008 M1208 1026 L1225 1029 M1208 1050 L1225 1052"/>
<ellipse cx="1168.75" cy="1032.5" rx="7" ry="11.5" transform="rotate(-20 1168.75 1032.5)"/>
<ellipse cx="1246" cy="1072.5" rx="9" ry="14" transform="rotate(-20 1246 1072.5)"/>
<path d="M1207.5 1072 L1225 1065 L1239 1100 L1222 1107 Z"/>
<path stroke-width="1.2" d="M1219 1067 L1232 1103"/>
<ellipse cx="1221" cy="1085" rx="3" ry="4"/>
<path stroke-width="1.5" d="M1188.75 1078 L1197 1075 L1200 1088 L1192 1091 Z"/>
<path stroke-width="1.5" d="M1191 1138 L1202 1134 L1203 1140 L1192 1143 Z"/>
<!-- diagonal strut to hub -->
<path d="M1100 1012.5 L1112.5 1025 L1125 1037 L1167.5 1118.75 L1187.5 1142.75 L1203 1178"/>
<path stroke-width="1.4" d="M1100 1020 L1112 1032 L1160 1122 L1178 1148 L1195 1182"/>
<path stroke-width="1.4" d="M1104 1016 L1116 1028 L1164 1120"/>
<path d="M1125 1040 L1154 1055"/>
<path d="M1060 992 L1075 1000 L1100 1012.5"/>
<!-- hub -->
<ellipse cx="1235" cy="1192.5" rx="16" ry="24" transform="rotate(-15 1235 1192.5)"/>
<ellipse cx="1238" cy="1190" rx="12" ry="19" stroke-width="1.3" transform="rotate(-15 1238 1190)"/>
<path d="M1222 1172 Q1212 1180 1208 1195 L1198 1197 L1192.5 1200 L1193 1212 L1198 1215 L1208 1212 Q1215 1212 1225 1214"/>
<path stroke-width="1.3" d="M1194 1203 L1198 1210 M1196 1200 L1197 1213"/>
<!-- member 6 curved lower -->
<path d="M1222.5 1217.5 Q1235 1228 1255 1230 L1285 1217.5 L1355 1170 L1382.5 1162.5 L1405 1170"/>
<path stroke-width="1.3" d="M1228 1213 Q1240 1222 1257 1224 L1283 1212 L1352 1166 L1380 1158"/>
<path stroke-width="1.3" d="M1240 1208 Q1250 1216 1260 1217 L1281 1207 L1348 1162 L1378 1154"/>
<path stroke-width="1.3" d="M1250 1198 Q1262 1208 1268 1207 L1279 1201 L1344 1158 L1370 1152"/>
<path d="M1265 1200 L1340 1157.5 L1365 1152.5 L1390 1155"/>
</g>


<!-- ===== middle cross member & far side ===== -->
<g fill="none" stroke="#000" stroke-width="2.2" stroke-linejoin="round" stroke-linecap="round">
<path d="M1255 973.75 L1352.5 927.5 Q1358 924 1362 922"/>
<path d="M1311 1002 L1362.5 977.5 Q1366 972 1366 967.5 L1367.5 960 Q1370 957 1373 960 L1374 967.5 L1372.5 1005 L1376 1035"/>
<path stroke-width="1.5" d="M1316 988 L1327 983 L1329 987 L1318 992 Z"/>
<path stroke-width="1.5" d="M1340 976 L1351 971 L1353 975 L1342 980 Z"/>
<path d="M1313.75 1002.5 L1327.5 1011.25 M1322 999 L1330 1016 M1337.5 992.5 L1345 1018.75"/>
<path stroke-width="1.3" d="M1352 988 L1358 1040"/>
<g fill="#000" stroke="none"><circle cx="1354" cy="989" r="1.2"/><circle cx="1364" cy="994" r="1.2"/><circle cx="1367" cy="1006" r="1.2"/><circle cx="1359" cy="1012" r="1.2"/><circle cx="1356" cy="1020" r="1.2"/><circle cx="1369" cy="1017" r="1.2"/><circle cx="1364" cy="1022" r="1.2"/><circle cx="1357" cy="1025" r="1.2"/></g>
<!-- far side plate with hole -->
<path d="M1377.5 927.5 Q1384 932 1387.5 940 L1390 953.75 Q1402 955 1415 957.5 L1427.5 980 L1432.5 1017.5 L1430 1057.5"/>
<path stroke-width="1.2" d="M1378 922 Q1388 926 1398 935 Q1420 955 1428 975 L1434 1010"/>
<ellipse cx="1405" cy="992.5" rx="10" ry="14" transform="rotate(-20 1405 992.5)"/>
<path stroke-width="1.2" d="M1320 935 Q1335 910 1355 905 Q1368 905 1380 912"/>
<!-- far rail inner face details -->
<path stroke-width="1.2" d="M1423.75 930 L1526.6 980"/>
<g stroke-width="1.5">
<path d="M1465 981 L1485 991 L1483 995 L1463 985 Z"/>
<path d="M1465 1008 L1485 1018 L1483 1022 L1463 1012 Z"/>
<path d="M1495 998 L1499 998 L1499 1011 L1495 1011 Z"/>
<path d="M1495 1041 L1499 1041 L1499 1054 L1495 1054 Z"/>
<path d="M1408 1030 L1412 1030 L1412 1043 L1408 1043 Z"/>
<path d="M1517 1054 L1521 1054 L1521 1067 L1517 1067 Z"/>
<path d="M1455 1028 L1462 1025 L1470 1032 L1474 1030 L1476 1036 L1466 1044 Z"/>
<path d="M1432.5 937.5 L1438 939 L1440 972 L1435 972.5 Z"/>
</g>
<g fill="#000" stroke="none"><circle cx="1477.5" cy="965" r="2.2"/><circle cx="1441" cy="1018.75" r="2.2"/><circle cx="1521" cy="986" r="2.2"/><circle cx="1521" cy="1058.75" r="2.2"/><circle cx="1478.75" cy="1037.5" r="2.2"/><circle cx="1418.75" cy="935" r="2.2"/><circle cx="1300" cy="947" r="2.2"/></g>
</g>


<!-- ===== far rail face details ===== -->
<g fill="none" stroke="#000" stroke-width="1.8" stroke-linejoin="round" stroke-linecap="round">
<path stroke-width="1.3" d="M897.5 670 L945 772.5 M901 669 L948.5 771.5"/>
<path stroke-width="1.6" d="M950 697.5 L990 792.5"/>
<path stroke-width="1.2" d="M972.5 701 L1012.5 696"/>
<path stroke-width="1.5" d="M910 677.5 L916 679 L917.5 710 L912 711 Z"/>
<path stroke-width="1.5" d="M1047.5 745 L1053 746 L1055 775 L1049 776 Z"/>
<path stroke-width="1.5" d="M1187.5 815 L1193 816 L1195 850 L1189 851 Z"/>
<path stroke-width="1.5" d="M1295 870 L1300 871 L1302.5 887.5 L1297 888 Z"/>
<path stroke-width="1.5" d="M890 667.5 L895 667 L895.5 682.5 L890.5 683 Z"/>
<path stroke-width="1.5" d="M997.5 776 L1008 779 L1010 782.5 L999 780 Z"/>
<path stroke-width="1.5" d="M930 747.5 L935 747 L935 760 L930 760.5 Z"/>
<path stroke-width="1.5" d="M1150 797.5 L1155 797 L1155 810 L1150 810.5 Z"/>
<path stroke-width="1.5" d="M1177.5 835 L1182.5 835 L1182.5 850 L1177.5 850 Z"/>
<path stroke-width="1.5" d="M1170 865 L1175 864.5 L1177.5 880 L1172 880 Z"/>
<g fill="#000" stroke="none">
<circle cx="940" cy="695" r="2.3"/><circle cx="992.5" cy="721" r="2.3"/><circle cx="992.5" cy="792.5" r="2.3"/><circle cx="1062.5" cy="756" r="2.3"/><circle cx="1122.5" cy="786" r="2.3"/><circle cx="1182.5" cy="815" r="2.3"/><circle cx="1232.5" cy="841" r="2.3"/><circle cx="1285" cy="867.5" r="2.3"/><circle cx="886" cy="725" r="2.3"/><circle cx="925" cy="762.5" r="2.3"/>
</g>
<!-- brackets above far rail -->
<path d="M1105 735 L1117.5 705 Q1120 699 1127 700 L1152.5 715 L1152.5 750 L1140 757.5"/>
<path stroke-width="1.3" d="M1135 712 L1128 748 M1140 718 L1136 752 M1120 730 L1110 740"/>
<path d="M955 665 L970 657.5 Q980 657 985 665 L990 680"/>
<ellipse cx="980" cy="673" rx="3" ry="3.5"/>
<path d="M1065 727 Q1066 716 1072 715 Q1078 716 1080 727"/>
<path d="M1155 740 L1180 747.5 Q1189 752 1191 760 Q1192 770 1180 780"/>
<path d="M895 607.5 L920 620 L932.5 625 L932.5 642.5 L927.5 646"/>
<!-- bent tab near 9 -->
<path d="M1387.5 882.5 L1387.5 850 Q1388 843 1395 842.5 L1415 850 L1410 855 L1410 882.5"/>
<path stroke-width="1.3" d="M1395 845 L1395 882"/>
</g>


<!-- ===== extra rear details ===== -->
<g fill="none" stroke="#000" stroke-width="2.2" stroke-linejoin="round" stroke-linecap="round">
<path d="M1592.5 982.5 L1622.5 968.5 Q1626 967 1630 969 L1673 995"/>
<path stroke-width="1.2" d="M1596 985 L1623 972 L1668 996"/>
<g stroke-width="1.1"><circle cx="1615" cy="980" r="1.2"/><circle cx="1630" cy="985" r="1.2"/><circle cx="1645" cy="990" r="1.2"/><circle cx="1620" cy="992" r="1.2"/><circle cx="1640" cy="998" r="1.2"/><circle cx="1655" cy="1000" r="1.2"/></g>
<!-- hanging bracket -->
<path d="M1700 1395 Q1698 1415 1707 1425 Q1715 1432 1730 1428 L1745 1422 L1760 1412"/>
<path stroke-width="1.3" d="M1704 1394 Q1703 1412 1710 1421"/>
<circle cx="1718" cy="1412" r="5"/>
<path d="M1712 1395 L1728 1420 M1722 1390 L1740 1418"/>
<path stroke-width="1.5" d="M1740 1402 L1745 1400 L1746 1412 L1741 1414 Z"/>
<!-- near-rear end plate holes -->
<g stroke-width="1.3"><circle cx="1840" cy="1440" r="1.6"/><circle cx="1840" cy="1458" r="1.6"/><circle cx="1852" cy="1428" r="1.6"/><circle cx="1866" cy="1432" r="1.6"/><circle cx="1866" cy="1450" r="1.6"/></g>
<path d="M1820 1405 L1834 1412 L1834 1430 M1820 1405 Q1818 1395 1825 1395 L1840 1400 L1840 1410"/>
<path d="M1780 1403 L1800 1400 L1808 1404 L1806 1430 L1790 1437 L1780 1432 Z"/>
<path d="M1790 1408 L1790 1437"/>
</g>


<!-- ===== block details ===== -->
<g fill="none" stroke="#000" stroke-width="1.2" stroke-linejoin="round" stroke-linecap="round">
<path d="M552.5 640 L632.5 686.25"/>
<path d="M572.5 653.75 L635 688.75"/>
<path d="M565.6 691.25 L565.6 740"/>
<path d="M587.5 703.75 Q589 720 592.5 740"/>
<path d="M600 688.75 Q610 688 613.75 691.25 Q620 695 625 701.25"/>
<path d="M723.75 612.5 L725 655"/>
<path d="M755 612 Q758 630 768 650"/>
<ellipse cx="713.75" cy="637.5" rx="4" ry="6" stroke-width="1.5" transform="rotate(-15 713.75 637.5)"/>
<ellipse cx="736.25" cy="646.25" rx="5" ry="9" stroke-width="1.5" transform="rotate(-15 736.25 646.25)"/>
<path d="M732 645 L741 643"/>
<path d="M561 669 L561 682 M559 668 Q558 675 560 683" stroke-width="2.2"/>
<path d="M720 590 L720 603 M718 589 Q717 596 719 604" stroke-width="2.2"/>
<path d="M536 689 L540 690 M695 627 L699 628" stroke-width="2"/>
<path d="M738.75 732.75 L707.5 678.75 L690 666.25 L677.5 663.75 L662.5 671.25" stroke-width="1.3"/>
<path d="M590 700 Q600 690 612 692" stroke-width="1"/>
<path d="M750 600 Q770 610 780 640" stroke-width="1"/>
</g>


<!-- ===== gusset plate & cables near cross member ===== -->
<g fill="none" stroke="#000" stroke-width="2.2" stroke-linejoin="round" stroke-linecap="round">
<path d="M1400 1080 L1376 1092 Q1374 1095 1377 1097 L1492.5 1140 Q1497 1140 1499 1135"/>
<path stroke-width="1.2" d="M1378 1098 L1490 1143"/>
<path d="M1398 1106 Q1404 1112 1409 1126 L1490 1166 L1492 1140"/>
<path d="M1415 1117 L1415 1131 M1430 1124 L1430 1139 M1451 1132 L1451 1147 M1471 1140 L1471 1155"/>
<path stroke-width="1.4" d="M1418 1121 Q1424 1126 1427 1138 M1435 1128 Q1440 1133 1448 1145 M1455 1136 Q1460 1140 1468 1153 M1474 1143 Q1480 1148 1486 1160"/>
<g stroke-width="1"><circle cx="1381" cy="1092" r="1.3"/><circle cx="1391" cy="1088" r="1.3"/><circle cx="1400" cy="1083" r="1.3"/><circle cx="1410" cy="1097" r="1.3"/><circle cx="1420" cy="1102" r="1.3"/><circle cx="1410" cy="1107" r="1.3"/><circle cx="1440" cy="1115" r="1.3"/><circle cx="1449" cy="1111" r="1.3"/><circle cx="1458" cy="1122" r="1.3"/><circle cx="1468" cy="1131" r="1.3"/><circle cx="1478" cy="1127" r="1.3"/><circle cx="1488" cy="1124" r="1.3"/></g>
<path d="M1364 1104 Q1364 1099 1370 1099 L1378 1102 Q1381 1104 1381 1110 L1381 1122 L1374 1126 L1366 1124 Q1364 1122 1364 1118 Z"/>
<circle cx="1370" cy="1113" r="2.5" stroke-width="1.3"/>
<path stroke-width="1.2" d="M1480 1088 Q1490 1078 1510 1077 M1482 1092 Q1495 1082 1512 1081 M1486 1095 Q1498 1086 1514 1085 M1490 1097 Q1502 1090 1516 1089 M1495 1099 Q1505 1094 1518 1093"/>
<path stroke-width="1.2" d="M1330 1160 Q1340 1155 1355 1156 M1330 1164 Q1342 1159 1358 1160 M1330 1168 Q1345 1163 1362 1164 M1332 1172 Q1348 1167 1366 1168"/>
<path stroke-width="1.6" d="M1448 1157 L1452 1156 L1453 1170 L1449 1171 Z M1418 1172 L1422 1171 L1423 1185 L1419 1186 Z M1438 1179 L1442 1178 L1443 1192 L1439 1193 Z"/>
<g fill="#000" stroke="none"><circle cx="1350" cy="1135" r="2.2"/><circle cx="1440" cy="1019" r="2.2"/><circle cx="1522" cy="1059" r="2.2"/><circle cx="1479" cy="1038" r="2.2"/></g>
</g>

<path fill="none" stroke="#000" stroke-width="1.3" d="M880 657 L913 675"/>

<g fill="none" stroke="#000" stroke-width="2.4" stroke-linejoin="round" stroke-linecap="round">
<path d="M1493.3 1238 L1501.6 1266.4 L1505 1283 L1521.6 1308 L1545 1320.5 L1556 1320"/>
<path stroke-width="1.3" d="M1545 1262 L1545 1300 L1542 1312"/>
<path d="M1577 1242 Q1578 1238 1583 1239 L1598 1246 Q1602 1249 1601.5 1254 L1600 1259 Q1598 1262 1593 1260 L1579 1254 Q1576.5 1251 1577 1246 Z"/>
<circle cx="1589" cy="1250" r="3.5" stroke-width="1.5"/>
<g fill="#000" stroke="none"><circle cx="1580.5" cy="1243.5" r="1"/><circle cx="1596" cy="1250" r="1"/><circle cx="1582" cy="1254" r="1"/><circle cx="1596.5" cy="1258" r="1"/></g>
<path stroke-width="1.6" d="M1575 1294 L1583 1297 Q1586 1300 1583 1303 L1576 1301 Z"/>
</g>

<!-- leader lines -->
<g id="leaders" stroke="#000" stroke-width="3.3" fill="none">
<path d="M193.3 235 V283.7"/>
<path d="M253 360 V408.7"/>
<path d="M320 333.7 V382.5"/>
<path d="M437.5 286 V335"/>
<path d="M489 262.5 V311"/>
<path d="M1138.6 504.6 V553.4"/>
<path d="M453.2 816 V864.5"/>
<path d="M911.3 1012.7 V1061"/>
<path d="M1064.2 971.5 V1020.4"/>
<path d="M1547 938.7 V992.5"/>
<path d="M1326.6 1184.4 V1232.5"/>
<path d="M2030.4 1226.6 V1276.5"/>
<path d="M1571 1627.7 H1620.2"/>
</g>

<!-- labels -->
<g>
<text class="l" x="191.5" y="313">1</text>
<text class="l" x="253.2" y="438">2</text>
<text class="l" x="320.2" y="412">3</text>
<text class="l" x="437.5" y="364.5">3</text>
<text class="l" x="489" y="341">4</text>
<text class="l" x="1139.3" y="582">5</text>
<text class="l" x="453.3" y="893">5</text>
<text class="l" x="910.9" y="1090.8">7</text>
<text class="l" x="1065" y="1049.6">10</text>
<text class="l" x="1546.7" y="926.3">9</text>
<text class="l" x="1326.7" y="1262">6</text>
<text class="l" x="2030.8" y="1212.9">8</text>
<text class="l" x="1538" y="1640.1">11</text>
</g>


<!-- watermark -->
<text class="w" y="928.75" letter-spacing="-2.3"><tspan x="1019">w</tspan><tspan x="1072.5">oooyeah.com</tspan></text>

<!-- A box bottom right -->
<g>
<rect x="1962.6" y="1486" width="74.8" height="75.2" fill="none" stroke="#000" stroke-width="5.2"/>
<text class="A" transform="translate(2001.85 1547.6) scale(1.08 1)" x="0" y="0">A</text>
<path d="M2000.5 1401 L2008 1484 L1993 1484 Z" fill="#000"/>
</g>

</svg>
</body></html>
